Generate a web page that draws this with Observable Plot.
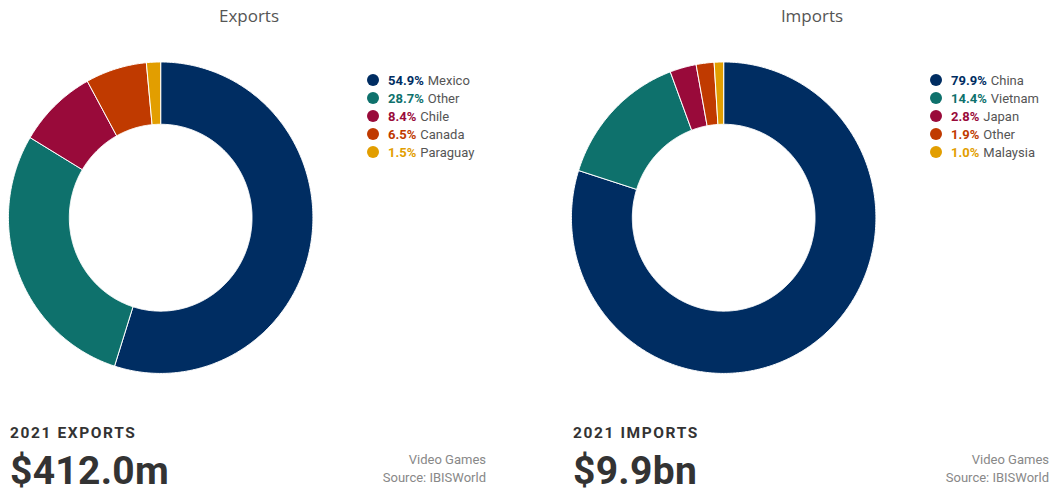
<!DOCTYPE html>
<html>
<head>
<meta charset="utf-8">
<script src="https://cdn.jsdelivr.net/npm/d3@7"></script>
<script src="https://cdn.jsdelivr.net/npm/@observablehq/plot@0.6"></script>
<style>
  html, body { margin: 0; padding: 0; background: #fff; }
  #root { position: relative; width: 1049px; height: 494px; overflow: hidden; font-family: Roboto, sans-serif; }
  .panel { position: absolute; top: 0; width: 486px; height: 494px; }
  .title { position: absolute; top: 4px; left: 0; width: 498px; text-align: center; font-family: "Open Sans", sans-serif; font-size: 17px; color: #555; }
  .chart { position: absolute; top: 0; left: 0; }
  .legend { position: absolute; left: 367px; top: 71px; }
  .row { height: 18px; display: flex; align-items: center; font-size: 13px; white-space: nowrap; }
  .dot { width: 12px; height: 12px; border-radius: 50%; margin-right: 9px; }
  .pct { font-weight: bold; margin-right: 4px; }
  .name { color: #555; }
  .kicker { position: absolute; left: 10px; top: 424px; font-size: 15.5px; font-weight: bold; letter-spacing: 1.6px; color: #333; }
  .big { position: absolute; left: 10px; top: 448px; font-size: 39px; font-weight: bold; color: #333; line-height: normal; letter-spacing: 0.3px; }
  .src { position: absolute; right: 0; top: 451px; font-size: 13px; color: #888; text-align: right; line-height: 18px; }
</style>
</head>
<body>
<div id="root"></div>
<script>
const palette = ["#002d62", "#0e716c", "#990a3a", "#c03a00", "#e29e00"];

const exportNames = ["Mexico", "Other", "Chile", "Canada", "Paraguay"];
const exportShares = [54.9, 28.7, 8.4, 6.5, 1.5];
const importNames = ["China", "Vietnam", "Japan", "Other", "Malaysia"];
const importShares = [79.9, 14.4, 2.8, 1.9, 1.0];

const panels = [
  {left: 0, title: "Exports", names: exportNames, shares: exportShares, kicker: "2021 EXPORTS", total: "$412.0m"},
  {left: 563, title: "Imports", names: importNames, shares: importShares, kicker: "2021 IMPORTS", total: "$9.9bn"}
];

const INNER = 0.6;

function slicePolygons(names, shares) {
  const total = d3.sum(shares);
  const pts = [];
  let acc = 0;
  names.forEach((name, i) => {
    const a0 = acc / total * 2 * Math.PI;
    acc += shares[i];
    const a1 = acc / total * 2 * Math.PI;
    const n = Math.max(2, Math.ceil((a1 - a0) / 0.01));
    const outer = [], inner = [];
    for (let k = 0; k <= n; k++) {
      const a = a0 + (a1 - a0) * k / n;
      outer.push({name, i, x: Math.sin(a), y: Math.cos(a)});
      inner.push({name, i, x: INNER * Math.sin(a), y: INNER * Math.cos(a)});
    }
    const ring = outer.concat(inner.reverse());
    ring.push(ring[0]);
    pts.push(...ring);
  });
  return pts;
}

const root = document.getElementById("root");
panels.forEach(p => {
  const panel = document.createElement("div");
  panel.className = "panel";
  panel.style.left = p.left + "px";
  root.appendChild(panel);

  const pts = slicePolygons(p.names, p.shares);
  const colorOf = d3.scaleOrdinal(p.names, palette);
  const chart = Plot.plot({
    width: 490,
    height: 400,
    margin: 0,
    x: {domain: [-1, 1], range: [8, 315], axis: null},
    y: {domain: [-1, 1], range: [376, 62], axis: null},
    marks: [
      Plot.line(pts, {x: "x", y: "y", z: "name", fill: d => colorOf(d.name), stroke: "#fff", strokeWidth: 1, curve: "linear"})
    ]
  });
  chart.classList.add("chart");
  panel.appendChild(chart);

  const title = document.createElement("div");
  title.className = "title";
  title.textContent = p.title;
  panel.appendChild(title);

  const legend = document.createElement("div");
  legend.className = "legend";
  p.names.forEach((name, i) => {
    const row = document.createElement("div");
    row.className = "row";
    row.innerHTML = `<span class="dot" style="background:${palette[i]}"></span><span class="pct" style="color:${palette[i]}">${p.shares[i].toFixed(1)}%</span><span class="name">${name}</span>`;
    legend.appendChild(row);
  });
  panel.appendChild(legend);

  const kicker = document.createElement("div");
  kicker.className = "kicker";
  kicker.textContent = p.kicker;
  panel.appendChild(kicker);

  const big = document.createElement("div");
  big.className = "big";
  big.textContent = p.total;
  panel.appendChild(big);

  const src = document.createElement("div");
  src.className = "src";
  src.innerHTML = "Video Games<br>Source: IBISWorld";
  panel.appendChild(src);
});
</script>
</body>
</html>
